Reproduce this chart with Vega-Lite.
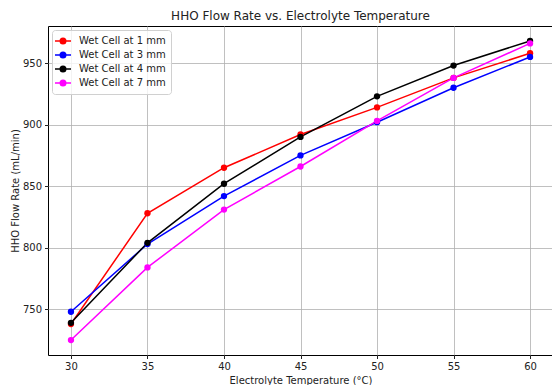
{
  "$schema": "https://vega.github.io/schema/vega-lite/v6.json",
  "autosize": {"type": "none"},
  "padding": {"left": 48, "top": 26, "right": 0, "bottom": 30},
  "width": 505,
  "height": 329,
  "background": "white",
  "title": {"text": "HHO Flow Rate vs. Electrolyte Temperature", "font": "DejaVu Sans", "fontSize": 12, "fontWeight": "normal", "color": "#222", "offset": 3},
  "data": {"values": [
    {"t": 30, "s": "Wet Cell at 1 mm", "v": 738},
    {"t": 35, "s": "Wet Cell at 1 mm", "v": 828},
    {"t": 40, "s": "Wet Cell at 1 mm", "v": 865},
    {"t": 45, "s": "Wet Cell at 1 mm", "v": 892},
    {"t": 50, "s": "Wet Cell at 1 mm", "v": 914},
    {"t": 55, "s": "Wet Cell at 1 mm", "v": 938},
    {"t": 60, "s": "Wet Cell at 1 mm", "v": 958},
    {"t": 30, "s": "Wet Cell at 3 mm", "v": 748},
    {"t": 35, "s": "Wet Cell at 3 mm", "v": 803},
    {"t": 40, "s": "Wet Cell at 3 mm", "v": 842},
    {"t": 45, "s": "Wet Cell at 3 mm", "v": 875},
    {"t": 50, "s": "Wet Cell at 3 mm", "v": 902},
    {"t": 55, "s": "Wet Cell at 3 mm", "v": 930},
    {"t": 60, "s": "Wet Cell at 3 mm", "v": 955},
    {"t": 30, "s": "Wet Cell at 4 mm", "v": 739},
    {"t": 35, "s": "Wet Cell at 4 mm", "v": 804},
    {"t": 40, "s": "Wet Cell at 4 mm", "v": 852},
    {"t": 45, "s": "Wet Cell at 4 mm", "v": 890},
    {"t": 50, "s": "Wet Cell at 4 mm", "v": 923},
    {"t": 55, "s": "Wet Cell at 4 mm", "v": 948},
    {"t": 60, "s": "Wet Cell at 4 mm", "v": 968},
    {"t": 30, "s": "Wet Cell at 7 mm", "v": 725},
    {"t": 35, "s": "Wet Cell at 7 mm", "v": 784},
    {"t": 40, "s": "Wet Cell at 7 mm", "v": 831},
    {"t": 45, "s": "Wet Cell at 7 mm", "v": 866},
    {"t": 50, "s": "Wet Cell at 7 mm", "v": 903},
    {"t": 55, "s": "Wet Cell at 7 mm", "v": 938},
    {"t": 60, "s": "Wet Cell at 7 mm", "v": 966}
  ]},
  "encoding": {
    "x": {"field": "t", "type": "quantitative", "title": "Electrolyte Temperature (°C)",
      "scale": {"domain": [28.5, 61.5], "nice": false, "zero": false},
      "axis": {"values": [30, 35, 40, 45, 50, 55, 60], "titlePadding": 4}},
    "y": {"field": "v", "type": "quantitative", "title": "HHO Flow Rate (mL/min)",
      "scale": {"domain": [712.85, 980.15], "nice": false, "zero": false},
      "axis": {"values": [750, 800, 850, 900, 950], "titlePadding": 2}},
    "color": {"field": "s", "type": "nominal", "title": null,
      "scale": {"domain": ["Wet Cell at 1 mm", "Wet Cell at 3 mm", "Wet Cell at 4 mm", "Wet Cell at 7 mm"], "range": ["#ff0000", "#0000ff", "#000000", "#ff00ff"]},
      "legend": {"orient": "none", "legendX": 4, "legendY": 4,
        "symbolType": "M-1.6,0H1.6M-0.55,0A0.55,0.55 0 1,0 0.55,0A0.55,0.55 0 1,0 -0.55,0Z",
        "symbolSize": 100, "symbolStrokeWidth": 1.5, "symbolFillColor": null,
        "labelFont": "DejaVu Sans", "labelFontSize": 10, "labelColor": "#222",
        "rowPadding": 2, "padding": 5, "fillColor": "rgba(255,255,255,0.8)", "strokeColor": "#d0d0d0", "cornerRadius": 3, "labelOffset": 10}},
    "order": {"field": "t"}
  },
  "layer": [
    {"mark": {"type": "line", "strokeWidth": 1.5}},
    {"mark": {"type": "point", "filled": true, "size": 40, "opacity": 1}}
  ],
  "config": {
    "view": {"stroke": "#000", "strokeWidth": 1},
    "axis": {"labelFont": "DejaVu Sans", "labelFontSize": 10, "labelColor": "#222", "titleFont": "DejaVu Sans", "titleFontSize": 10, "titleFontWeight": "normal", "titleColor": "#222", "grid": true, "gridColor": "#b0b0b0", "gridWidth": 0.8, "tickColor": "#222", "tickSize": 3.5, "domain": false, "labelPadding": 3}
  }
}
